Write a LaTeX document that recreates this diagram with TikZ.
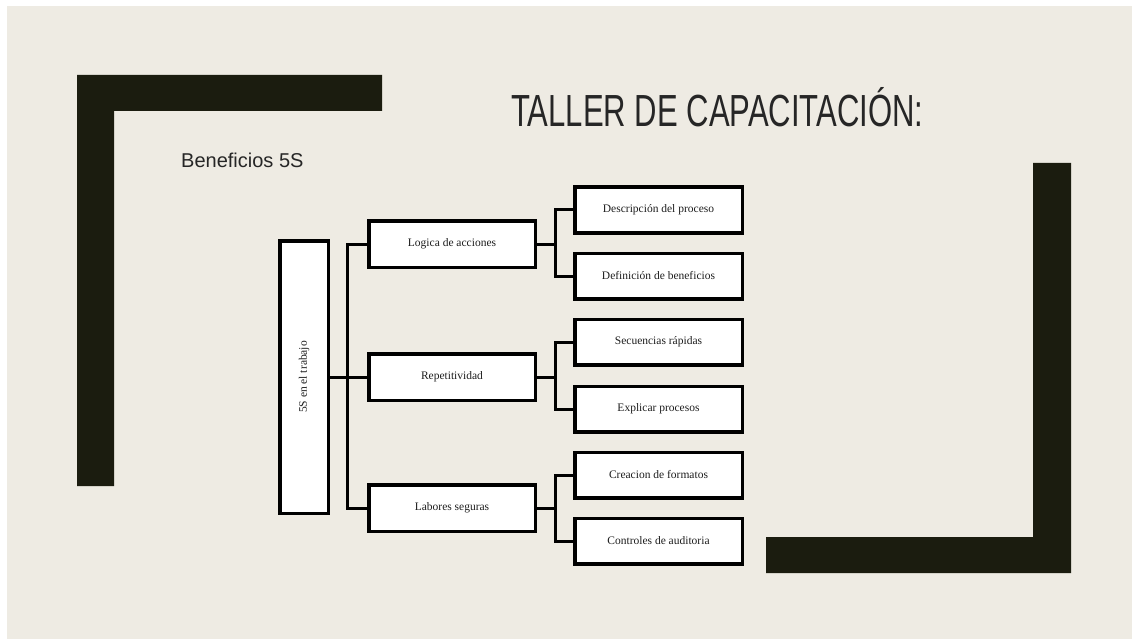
\documentclass[tikz,border=0pt]{standalone}
\usepackage{fontspec}
\setmainfont{Liberation Sans}
\newfontfamily\boxfont{Liberation Serif}
\definecolor{bgbeige}{HTML}{EEEBE3}
\definecolor{darkbar}{HTML}{1B1C0F}
\definecolor{titlegray}{HTML}{262626}
\definecolor{boxtext}{HTML}{1E1E1E}
\tikzset{
  bar/.style={fill=darkbar, draw=none},
  treebox/.style={draw=black, line width=3.5pt, fill=white, inner sep=0pt,
    text=boxtext, font=\boxfont\fontsize{11.5}{13}\selectfont},
  midbox/.style={treebox, minimum width=166.5pt, minimum height=46.5pt},
  leafbox/.style={treebox, minimum width=167.5pt, minimum height=45.5pt},
  conn/.style={draw=black, line width=3pt},
}
\begin{document}
\begin{tikzpicture}[x=1pt,y=-1pt]
\useasboundingbox (0,0) rectangle (1132,639);
\fill[white] (0,0) rectangle (1132,639);
\fill[bgbeige] (7,6) rectangle (1145,650);
% brackets
\fill[bar] (77,75) -- (382,75) -- (382,111) -- (114,111) -- (114,486) -- (77,486) -- cycle;
\fill[bar] (1071,163) -- (1071,573) -- (766,573) -- (766,537) -- (1033,537) -- (1033,163) -- cycle;
% titles
\node[anchor=base west, inner sep=0pt, text=titlegray, font=\fontsize{45}{50}\selectfont] (title) at (511,127) {\scalebox{0.69}[1]{TALLER DE CAPACITACIÓN:}};
\node[anchor=base west, inner sep=0pt, text=titlegray, font=\fontsize{20}{24}\selectfont] (sub) at (181,168) {Beneficios 5S};
% tree
\node[treebox, minimum width=48.5pt, minimum height=272.5pt] (root) at (304,377) {\rotatebox{90}{5S en el trabajo}};
\node[midbox] (m1) at (452,244) {Logica de acciones};
\node[midbox] (m2) at (452,377) {Repetitividad};
\node[midbox] (m3) at (452,508) {Labores seguras};
\node[leafbox] (f1) at (658.5,210) {Descripción del proceso};
\node[leafbox] (f2) at (658.5,276) {Definición de beneficios};
\node[leafbox] (f3) at (658.5,342) {Secuencias rápidas};
\node[leafbox] (f4) at (658.5,409) {Explicar procesos};
\node[leafbox] (f5) at (658.5,475) {Creacion de formatos};
\node[leafbox] (f6) at (658.5,541) {Controles de auditoria};
% junction points
\coordinate (s0) at (347,0);
\coordinate (s1) at (555,0);
% connectors
\draw[conn] (root.east) -- (m2.west);
\draw[conn] (m1.west) -| (s0 |- m2.west);
\draw[conn] (m3.west) -| (s0 |- m2.west);
\draw[conn] (m1.east) -- (s1 |- m1.east);
\draw[conn] (f1.west) -| (s1 |- m1.east);
\draw[conn] (f2.west) -| (s1 |- m1.east);
\draw[conn] (m2.east) -- (s1 |- m2.east);
\draw[conn] (f3.west) -| (s1 |- m2.east);
\draw[conn] (f4.west) -| (s1 |- m2.east);
\draw[conn] (m3.east) -- (s1 |- m3.east);
\draw[conn] (f5.west) -| (s1 |- m3.east);
\draw[conn] (f6.west) -| (s1 |- m3.east);
\end{tikzpicture}
\end{document}
